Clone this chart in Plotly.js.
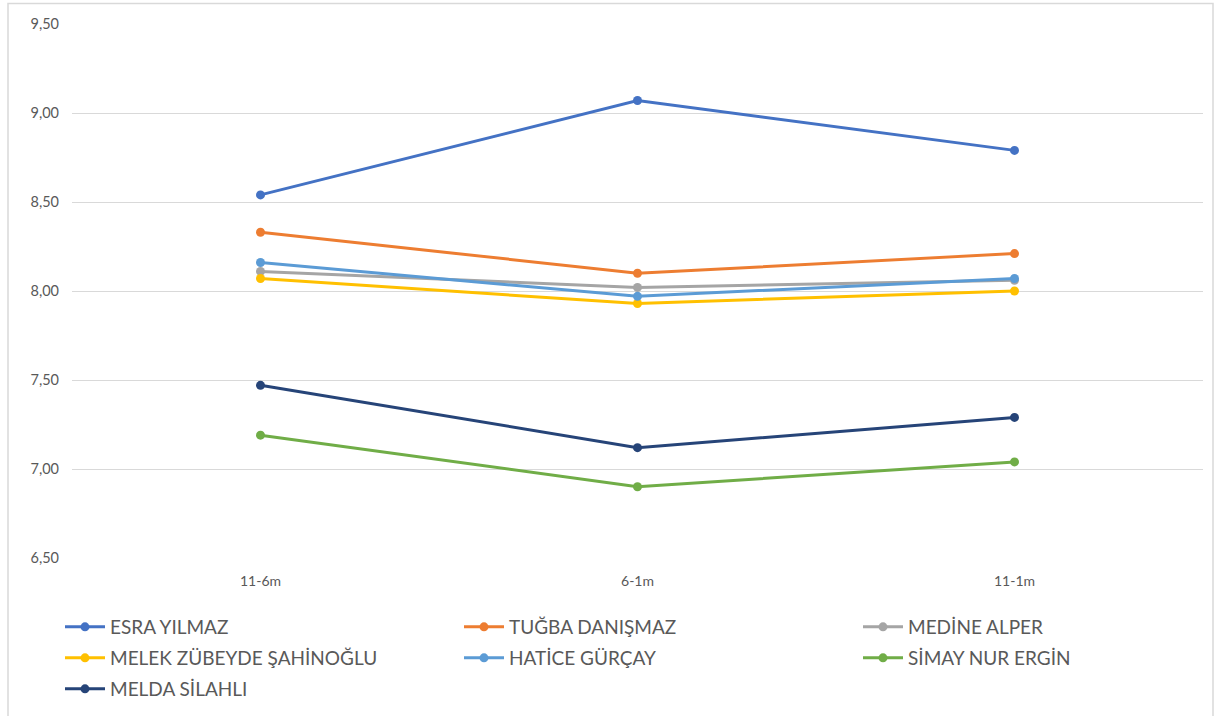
<!DOCTYPE html>
<html>
<head>
<meta charset="utf-8">
<script src="https://cdn.plot.ly/plotly-3.0.1.min.js"></script>
<style>html,body{margin:0;padding:0;background:#fff;}#chart{width:1218px;height:716px;}</style>
</head>
<body>
<div id="chart"></div>
<script>
const categories = ['11-6m', '6-1m', '11-1m'];
const seriesNames = ['ESRA YILMAZ', 'TUĞBA DANIŞMAZ', 'MEDİNE ALPER', 'MELEK ZÜBEYDE ŞAHİNOĞLU', 'HATİCE GÜRÇAY', 'SİMAY NUR ERGİN', 'MELDA SİLAHLI'];
const esra   = [8.54, 9.07, 8.79];
const tugba  = [8.33, 8.10, 8.21];
const medine = [8.11, 8.02, 8.06];
const melek  = [8.07, 7.93, 8.00];
const hatice = [8.16, 7.97, 8.07];
const simay  = [7.19, 6.90, 7.04];
const melda  = [7.47, 7.12, 7.29];
const seriesValues = [esra, tugba, medine, melek, hatice, simay, melda];
const colors = ['#4472C4', '#ED7D31', '#A5A5A5', '#FFC000', '#5B9BD5', '#70AD47', '#264478'];

const font = 'Lato, "Open Sans", sans-serif';
const legendKeys = ['legend', 'legend2', 'legend3', 'legend4', 'legend5', 'legend6', 'legend7'];
const traces = seriesNames.map((n, i) => ({
  type: 'scatter', mode: 'lines+markers', name: n,
  x: categories, y: seriesValues[i],
  line: {color: colors[i], width: 3},
  marker: {color: colors[i], size: 9},
  legend: legendKeys[i]
}));

// legend grid: 3 columns, rows filled left to right (text start x, row centre y)
const colX = [110, 509, 908];
const rowY = [627, 658, 689];

const layout = {
  width: 1218, height: 716,
  margin: {l: 72, r: 15, t: 23.5, b: 157.5},
  paper_bgcolor: '#fff', plot_bgcolor: '#fff',
  separators: ',.',
  showlegend: true,
  font: {family: font, color: '#595959'},
  xaxis: {
    type: 'category', range: [-0.5, 2.5], showgrid: false, zeroline: false,
    showline: false, ticks: '', tickfont: {family: font, size: 14, color: '#595959'},
    ticklabelstandoff: 13, fixedrange: true
  },
  yaxis: {
    range: [6.5, 9.5], dtick: 0.5, tick0: 6.5, tickformat: '.2f',
    showgrid: true, gridcolor: '#D9D9D9', gridwidth: 1, zeroline: false, showline: false,
    ticks: '', tickfont: {family: font, size: 14.5, color: '#595959'},
    ticklabelstandoff: 12, fixedrange: true
  },
  shapes: [{
    type: 'rect', xref: 'paper', yref: 'paper',
    x0: (8 - 72) / 1131, x1: (1213 - 72) / 1131,
    y0: (558.5 - 730) / 535, y1: (558.5 - 3) / 535,
    line: {color: '#D9D9D9', width: 1.5}, layer: 'below'
  }]
};

legendKeys.forEach((k, i) => {
  const c = i % 3, r = Math.floor(i / 3);
  layout[k] = {
    orientation: 'h', xref: 'container', yref: 'container',
    xanchor: 'left', yanchor: 'middle',
    x: (colX[c] - 50) / 1218, y: 1 - rowY[r] / 716,
    font: {family: font, size: 19, color: '#595959'},
    bgcolor: 'rgba(0,0,0,0)', itemwidth: 40
  };
});

Plotly.newPlot('chart', traces, layout, {displayModeBar: false, staticPlot: true});
</script>
</body>
</html>
